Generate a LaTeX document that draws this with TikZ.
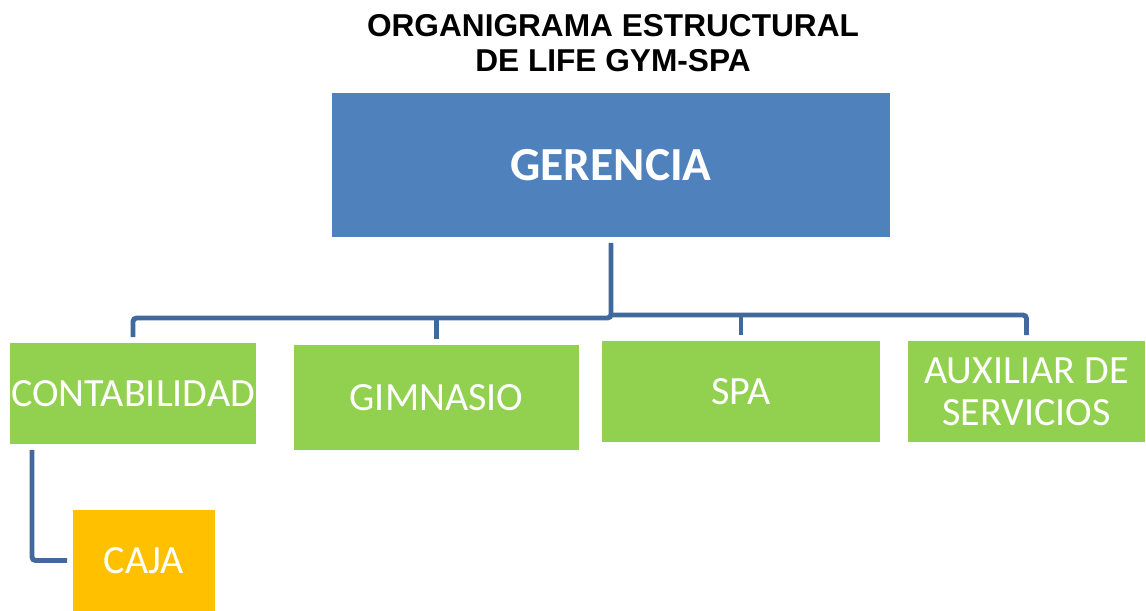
\documentclass[tikz,border=0pt]{standalone}
\usepackage{fontspec}
\setmainfont{Carlito}
\newfontfamily\titlefont{Liberation Sans}
\definecolor{gerblue}{HTML}{4F81BD}
\definecolor{deptgreen}{HTML}{92D050}
\definecolor{cajaorange}{HTML}{FFC000}
\definecolor{connblue}{HTML}{41699C}
\begin{document}
\begin{tikzpicture}[x=0.02cm,y=-0.02cm,
    box/.style={inner sep=0pt,outer sep=0.12cm,align=center,text=white},
    dept/.style={box,fill=deptgreen,minimum height=2.02cm,font=\fontsize{22.8}{24}\selectfont},
    conn/.style={draw=connblue,line width=2.8pt,rounded corners=2pt}]
    \useasboundingbox (0,0) rectangle (1146,611);
    \node[font=\titlefont\bfseries\fontsize{18}{20}\selectfont,align=center] (title) at (613,43) {ORGANIGRAMA ESTRUCTURAL\\DE LIFE GYM-SPA};
    \node[box,fill=gerblue,minimum width=11.16cm,minimum height=2.88cm,font=\bfseries\fontsize{27}{30}\selectfont] (ger) at (611,165) {GERENCIA};
    \node[dept,minimum width=4.92cm] (cont) at (133,393.5) {CONTABILIDAD};
    \node[dept,minimum width=5.7cm,minimum height=2.1cm] (gim) at (436.5,397.5) {GIMNASIO};
    \node[dept,minimum width=5.56cm] (spa) at (741,391.5) {SPA};
    \node[dept,minimum width=4.74cm] (aux) at (1026.5,391.5) {AUXILIAR DE\\SERVICIOS};
    \node[box,fill=cajaorange,minimum width=2.84cm,minimum height=2.02cm,font=\fontsize{22.8}{24}\selectfont] (caja) at (144,560.5) {CAJA};
    % lineas
    \coordinate (busl) at (0,318);
    \coordinate (busr) at (0,315);
    \coordinate (cajax) at (32,0);
    \draw[conn] (ger.south) -- (ger.south |- busl) -| (cont.north);
    \draw[conn] (gim.north) -- (gim.north |- busl);
    \draw[conn] (ger.south |- busr) -| (aux.north);
    \draw[conn] (spa.north) -- (spa.north |- busr);
    \draw[conn] (cont.south -| cajax) |- (caja.west);
\end{tikzpicture}
\end{document}
